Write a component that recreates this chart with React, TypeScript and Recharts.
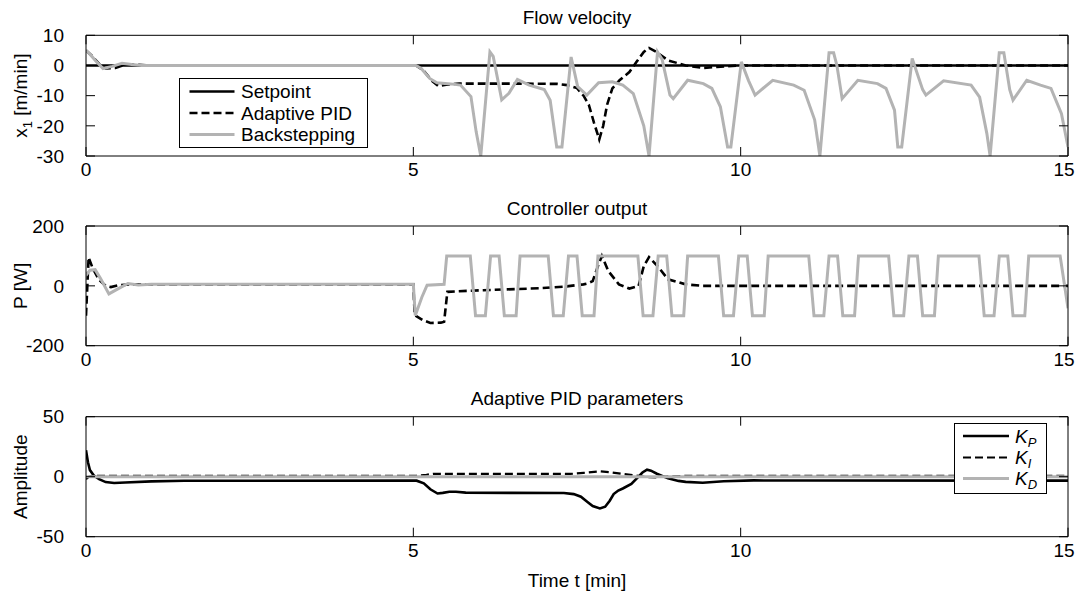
import React from 'react';
import { LineChart, Line, XAxis, YAxis, Legend } from 'recharts';

// ---------- tick labels ----------
const timeTicks = [0, 5, 10, 15];
const velTicks = [-30, -20, -10, 0, 10];
const powTicks = [-200, 0, 200];
const ampTicks = [-50, 0, 50];

// ---------- Panel 1: flow velocity ----------
const setpointT = [0, 15];
const setpointV = [0, 0];

const pidVelT = [0, 0.1, 0.2, 0.3, 0.45, 0.6, 0.8, 1.0, 5.04, 5.15, 5.28, 5.38, 5.5, 5.7, 6.5, 7.2, 7.35, 7.5, 7.6, 7.68, 7.76, 7.84, 7.9, 7.96, 8.04, 8.15, 8.3, 8.41, 8.52, 8.6, 8.71, 8.89, 9.16, 9.43, 9.64, 9.96, 15];
const pidVelV = [5, 3, 0.5, -1, -0.8, 0.3, 0.2, 0, 0, -1.5, -5, -6.8, -6.4, -6, -6, -6.1, -6.5, -7.5, -10, -13, -19, -24.5, -20, -13, -7.6, -4.9, -2.2, 1.2, 4.5, 5.8, 4.5, 1.7, 0, -0.8, -0.5, 0, 0];

const bsVelT = [0, 0.05, 0.15, 0.26, 0.4, 0.55, 0.7, 0.85, 5.04, 5.12, 5.25, 5.36, 5.57, 5.72, 5.88, 5.96, 6.03, 6.17, 6.22, 6.35, 6.46, 6.59, 6.77, 7.0, 7.09, 7.19, 7.27, 7.41, 7.51, 7.65, 7.83, 8.04, 8.2, 8.36, 8.52, 8.6, 8.73, 8.8, 8.92, 8.97, 9.19, 9.43, 9.56, 9.69, 9.8, 9.85, 10.01, 10.12, 10.22, 10.49, 10.81, 10.97, 11.13, 11.21, 11.35, 11.42, 11.47, 11.55, 11.79, 12.09, 12.22, 12.35, 12.4, 12.46, 12.62, 12.78, 12.83, 13.1, 13.52, 13.65, 13.76, 13.81, 13.95, 14.02, 14.11, 14.16, 14.37, 14.58, 14.74, 14.9, 15];
const bsVelV = [5, 4, 1.5, -1, -0.3, 0.7, 0.3, 0, 0, -1, -4.3, -5.7, -6.1, -6.5, -10.3, -22, -30, 4.5, 3, -11.4, -9.2, -4.6, -6.5, -8, -11.5, -27, -27, 2.8, -7, -9.8, -5.7, -5.4, -6.5, -9.3, -20, -30, 4.5, 2, -9.8, -11, -4.9, -6, -7.6, -13.7, -27, -27, 1.2, -5, -9.8, -4.9, -6.5, -8.2, -18, -30, 4.2, 4.2, 0, -11, -4.9, -6, -7.6, -14.8, -27, -27, 2.3, -8, -9.8, -5.1, -6.5, -10.5, -22.5, -30, 4.2, 4.2, -8, -11.5, -4.9, -6.5, -7.6, -16, -27];

// ---------- Panel 2: controller output ----------
const pidPowT = [0, 0.04, 0.1, 0.2, 0.3, 0.38, 0.5, 0.7, 5.0, 5.02, 5.15, 5.26, 5.42, 5.47, 5.52, 6.0, 6.93, 7.29, 7.6, 7.66, 7.74, 7.82, 7.88, 7.98, 8.14, 8.3, 8.44, 8.52, 8.6, 8.73, 8.89, 9.16, 9.42, 15];
const pidPowV = [-100, 95, 60, 20, 0, -4, 2, 5, 5, -98, -115, -124, -123, -120, -20, -15, -8, -3, 5, 8, 16, 66, 100, 49, 5, -9, -1, 66, 96, 66, 22, 5, 0, 0];

const bsPowT = [0, 0.06, 0.14, 0.22, 0.35, 0.48, 0.64, 0.8, 1.0, 5.0, 5.03, 5.13, 5.21, 5.47, 5.51, 5.87, 5.95, 6.1, 6.18, 6.31, 6.39, 6.57, 6.63, 7.06, 7.14, 7.29, 7.37, 7.5, 7.58, 7.76, 7.82, 8.43, 8.51, 8.66, 8.74, 8.87, 8.95, 9.13, 9.19, 9.66, 9.74, 9.89, 9.97, 10.1, 10.18, 10.36, 10.42, 11.04, 11.12, 11.27, 11.35, 11.48, 11.56, 11.74, 11.8, 12.26, 12.34, 12.49, 12.57, 12.7, 12.78, 12.96, 13.02, 13.64, 13.72, 13.87, 13.95, 14.08, 14.16, 14.34, 14.4, 14.88, 15];
const bsPowV = [35, 52, 54, 25, -27, -11, 8, 3, 5, 5, -99, -38, 2, 5, 100, 100, -100, -100, 100, 100, -100, -100, 100, 100, -100, -100, 100, 100, -100, -100, 100, 100, -100, -100, 100, 100, -100, -100, 100, 100, -100, -100, 100, 100, -100, -100, 100, 100, -100, -100, 100, 100, -100, -100, 100, 100, -100, -100, 100, 100, -100, -100, 100, 100, -100, -100, 100, 100, -100, -100, 100, 100, -75];

// ---------- Panel 3: adaptive PID parameters ----------
const kpT = [0, 0.03, 0.06, 0.12, 0.2, 0.3, 0.43, 0.6, 1.0, 1.5, 5.05, 5.16, 5.26, 5.37, 5.45, 5.55, 5.65, 5.8, 6.5, 7.3, 7.45, 7.56, 7.66, 7.74, 7.85, 7.93, 8.0, 8.06, 8.13, 8.2, 8.33, 8.44, 8.5, 8.57, 8.63, 8.72, 8.89, 9.05, 9.16, 9.42, 9.74, 10.2, 11, 15];
const kpV = [22, 12, 5.5, 1, -2, -4.5, -5.3, -4.8, -3.9, -3.4, -3.3, -5.5, -10.5, -14, -13.5, -12.5, -12.6, -13.3, -13.5, -13.6, -14.5, -16.7, -21, -24.5, -26.5, -25, -20, -14.5, -11.5, -9.8, -6, 0, 3.5, 5.8, 5, 2.5, -1.4, -3.5, -4.3, -5, -3.8, -3.1, -3.2, -3.3];

const kiT = [0, 0.05, 0.1, 5.05, 5.2, 5.3, 7.4, 7.6, 7.85, 8.0, 8.2, 8.4, 8.55, 8.7, 8.9, 9.2, 15];
const kiV = [-2, 0.2, 0.8, 0.8, 1.6, 2.3, 2.3, 3.2, 4.5, 3.8, 2.3, 1.0, -0.3, -0.5, 0.3, 0.8, 0.8];

const kdT = [0, 15];
const kdV = [0, 0];

// ---------- helpers ----------
type Pt = { t: number; v: number };
const zip = (t: number[], v: number[]): Pt[] => t.map((x, i) => ({ t: x, v: v[i] }));

type Series = { name: string; data: Pt[]; color: string; width: number; dash?: string; label: React.ReactNode };

const BLACK = '#000000';
const GREY = '#b3b3b3';
const DASH = '8 4';
const FONT = '"Liberation Sans", Arial, Helvetica, sans-serif';
const FS = 19;

const velSeries: Series[] = [
  { name: 'Setpoint', data: zip(setpointT, setpointV), color: BLACK, width: 2.6, label: 'Setpoint' },
  { name: 'Adaptive PID', data: zip(pidVelT, pidVelV), color: BLACK, width: 2.6, dash: DASH, label: 'Adaptive PID' },
  { name: 'Backstepping', data: zip(bsVelT, bsVelV), color: GREY, width: 3, label: 'Backstepping' },
];

const powSeries: Series[] = [
  { name: 'Adaptive PID', data: zip(pidPowT, pidPowV), color: BLACK, width: 2.6, dash: DASH, label: 'Adaptive PID' },
  { name: 'Backstepping', data: zip(bsPowT, bsPowV), color: GREY, width: 3, label: 'Backstepping' },
];

const sub = (main: string, s: string) => (
  <>
    <tspan fontStyle="italic">{main}</tspan>
    <tspan fontStyle="italic" fontSize={13} dy={4}>{s}</tspan>
  </>
);

const ampSeries: Series[] = [
  { name: 'KP', data: zip(kpT, kpV), color: BLACK, width: 2.6, label: sub('K', 'P') },
  { name: 'KI', data: zip(kiT, kiV), color: BLACK, width: 2.2, dash: DASH, label: sub('K', 'I') },
  { name: 'KD', data: zip(kdT, kdV), color: GREY, width: 3, label: sub('K', 'D') },
];

// x tick label; the last label is nudged so it stays inside the page
const XTick = (props: any) => {
  const { x, y, payload } = props;
  const last = payload && payload.value === timeTicks[timeTicks.length - 1];
  return (
    <text x={x + (last ? -4 : 0)} y={y} dy="0.71em" textAnchor="middle" fontSize={FS} fill="#000" fontFamily={FONT}>
      {payload ? payload.value : ''}
    </text>
  );
};

function LegendBox({ items, width, height, rows, lineX0, lineX1, textX }: { items: Series[]; width: number; height: number; rows: number[]; lineX0: number; lineX1: number; textX: number }) {
  return (
    <div style={{ width, height, border: '1px solid #000', background: '#fff', boxSizing: 'border-box' }}>
      <svg width={width - 2} height={height - 2} style={{ display: 'block', fontFamily: FONT, overflow: 'visible' }}>
        {items.map((s, i) => (
          <g key={s.name}>
            <line x1={lineX0} x2={lineX1} y1={rows[i]} y2={rows[i]} stroke={s.color} strokeWidth={s.width} strokeDasharray={s.dash} />
            <text x={textX} y={rows[i] + 6.8} fontSize={FS} fill="#000">{s.label}</text>
          </g>
        ))}
      </svg>
    </div>
  );
}

type PanelProps = {
  top: number;
  height: number;
  marginTop: number;
  marginBottom: number;
  title: string;
  yDomain: [number, number];
  yTicks: number[];
  yLabel: React.ReactNode;
  series: Series[];
  legend?: React.ReactNode;
  legendPos?: { left: number; top: number; width: number; height: number };
  xLabel?: string;
};

function Panel(p: PanelProps) {
  const titleContent = (props: any) => {
    const vb = props.viewBox || {};
    const x = vb.x + vb.width / 2;
    const y = vb.y + vb.height - 11.5;
    return (
      <text x={x} y={y} textAnchor="middle" fontSize={FS} fill="#000" fontFamily={FONT}>{p.title}</text>
    );
  };
  const yLabelContent = (props: any) => {
    const vb = props.viewBox || {};
    const cx = 20;
    const cy = vb.y + vb.height / 2;
    return (
      <text transform={`rotate(-90 ${cx} ${cy})`} x={cx} y={cy + 6.8} textAnchor="middle" fontSize={FS} fill="#000" fontFamily={FONT}>{p.yLabel}</text>
    );
  };
  const xLabelContent = (props: any) => {
    const vb = props.viewBox || {};
    return (
      <text x={vb.x + vb.width / 2} y={vb.y + 50.5} textAnchor="middle" fontSize={FS} fill="#000" fontFamily={FONT}>{p.xLabel}</text>
    );
  };
  const axisStroke = { stroke: '#000', strokeWidth: 1 };
  return (
    <div style={{ position: 'absolute', left: 0, top: p.top }}>
      <LineChart width={1077} height={p.height} margin={{ top: p.marginTop, right: 8, bottom: p.marginBottom, left: 0 }}>
        <XAxis xAxisId="b" dataKey="t" type="number" domain={[0, 15]} ticks={timeTicks} interval={0} allowDataOverflow
          height={30} tickSize={-9} tickMargin={16} axisLine={axisStroke} tickLine={axisStroke}
          tick={<XTick />}
          label={p.xLabel ? { content: xLabelContent } : undefined} />
        <XAxis xAxisId="t" orientation="top" dataKey="t" type="number" domain={[0, 15]} ticks={timeTicks} interval={0} allowDataOverflow
          height={1} tickSize={-9} tickFormatter={() => ''} axisLine={axisStroke} tickLine={axisStroke}
          label={{ content: titleContent }} />
        <YAxis yAxisId="l" type="number" domain={p.yDomain} ticks={p.yTicks} interval={0} allowDataOverflow
          width={86} tickSize={-9} tickMargin={31} axisLine={axisStroke} tickLine={axisStroke}
          tick={{ fill: '#000', fontSize: FS, fontFamily: FONT }}
          label={{ content: yLabelContent }} />
        <YAxis yAxisId="r" orientation="right" type="number" domain={p.yDomain} ticks={p.yTicks} interval={0} allowDataOverflow
          width={1} tickSize={-9} tickFormatter={() => ''} axisLine={axisStroke} tickLine={axisStroke} />
        {p.series.map((s) => (
          <Line key={s.name} xAxisId="b" yAxisId="l" data={s.data} dataKey="v" name={s.name} type="linear"
            stroke={s.color} strokeWidth={s.width} strokeDasharray={s.dash} dot={false} activeDot={false}
            isAnimationActive={false} strokeLinejoin="miter" />
        ))}
        {p.legend && p.legendPos ? (
          <Legend layout="vertical" align="center" verticalAlign="middle"
            wrapperStyle={{ left: p.legendPos.left, top: p.legendPos.top, width: p.legendPos.width, height: p.legendPos.height, right: 'auto', bottom: 'auto' }}
            content={() => p.legend} />
        ) : null}
      </LineChart>
    </div>
  );
}

export default function App() {
  return (
    <div style={{ position: 'absolute', left: 0, top: 0, width: 1077, height: 595, background: '#fff', fontFamily: FONT, overflow: 'hidden' }}>
      <Panel top={0} height={190} marginTop={34.3} marginBottom={4} title="Flow velocity"
        yDomain={[-30, 10]} yTicks={velTicks}
        yLabel={<><tspan>x</tspan><tspan fontSize={13} dy={5}>1</tspan><tspan dy={-5}> [m/min]</tspan></>}
        series={velSeries}
        legend={<LegendBox items={velSeries} width={189} height={70} rows={[12.5, 34, 55.5]} lineX0={9.5} lineX1={54.5} textX={61} />}
        legendPos={{ left: 179, top: 78, width: 189, height: 70 }} />
      <Panel top={190} height={190} marginTop={35} marginBottom={4.3} title="Controller output"
        yDomain={[-200, 200]} yTicks={powTicks} yLabel="P [W]" series={powSeries} />
      <Panel top={380} height={215} marginTop={35.7} marginBottom={28.3} title="Adaptive PID parameters"
        yDomain={[-50, 50]} yTicks={ampTicks} yLabel="Amplitude" series={ampSeries} xLabel="Time t [min]"
        legend={<LegendBox items={ampSeries} width={93} height={71} rows={[12, 33.5, 54.5]} lineX0={8} lineX1={54} textX={60} />}
        legendPos={{ left: 954, top: 43.3, width: 93, height: 71 }} />
    </div>
  );
}
